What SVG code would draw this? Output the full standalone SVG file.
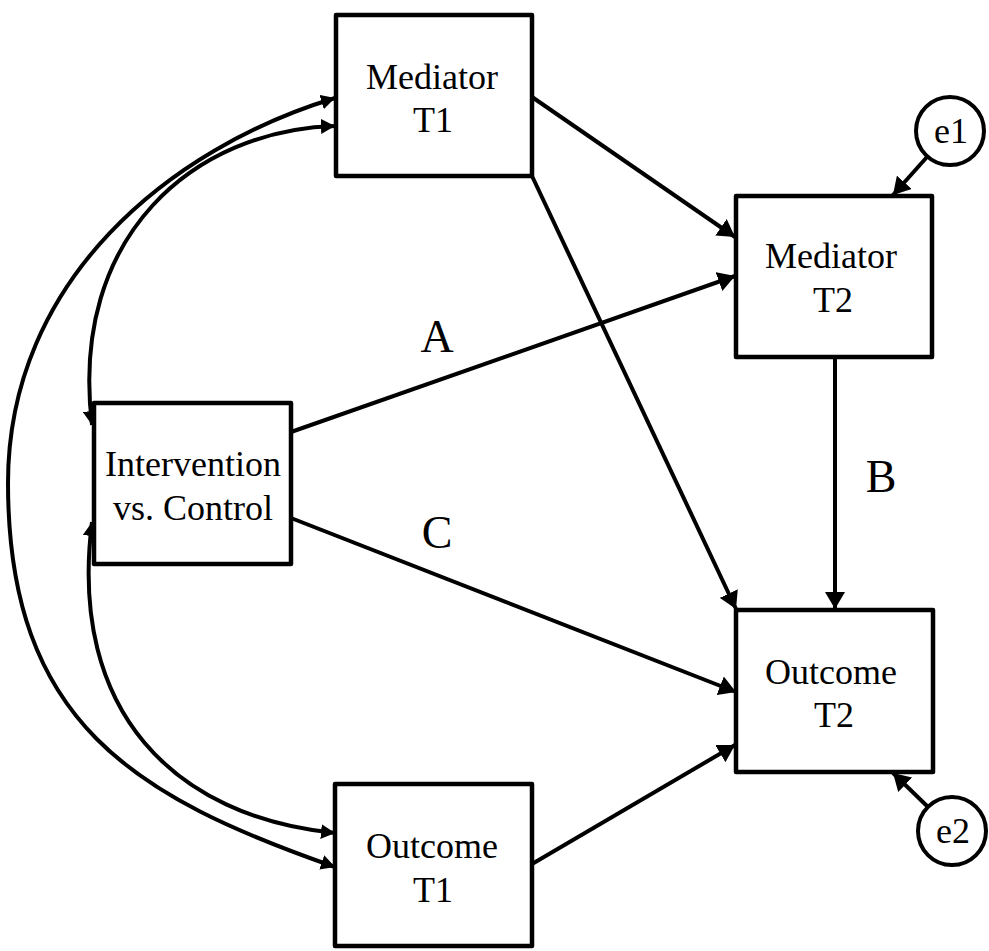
<svg xmlns="http://www.w3.org/2000/svg" width="989" height="951" viewBox="0 0 989 951">
  <defs>
    <style>
      .box { fill: #ffffff; stroke: #000000; stroke-width: 4.5; stroke-linejoin: round; }
      .err { fill: #ffffff; stroke: #000000; stroke-width: 4; }
      .lbl { font-family: 'Liberation Serif', 'DejaVu Serif', serif; font-size: 36px; fill: #000000; text-anchor: middle; }
      .path-lbl { font-family: 'Liberation Serif', 'DejaVu Serif', serif; font-size: 46px; fill: #000000; text-anchor: middle; }
      .edge { fill: none; stroke: #000000; stroke-width: 4; marker-end: url(#head); }
      .cov { fill: none; stroke: #000000; stroke-width: 4; marker-start: url(#headSm); marker-end: url(#headSm); }
    </style>
    <!-- arrowhead for directed paths -->
    <marker id="head" markerUnits="userSpaceOnUse" markerWidth="20" markerHeight="20" refX="17" refY="10" orient="auto">
      <path d="M0,0 L17,10 L0,20 z" fill="#000000"/>
    </marker>
    <!-- smaller arrowhead for the curved covariance paths -->
    <marker id="headSm" markerUnits="userSpaceOnUse" markerWidth="15" markerHeight="15" refX="14" refY="7.5" orient="auto-start-reverse">
      <path d="M0,0 L14,7.5 L0,15 z" fill="#000000"/>
    </marker>
  </defs>

  <rect width="989" height="951" fill="#ffffff"/>

  <!-- connectors -->
  <g id="connectors">
    <!-- covariances -->
    <path class="cov" d="M335,98 C170,148 8,280 8,483 C8,723 135,797 335,867"/>
    <path class="cov" d="M335,126 C195,130 69,235 92,425"/>
    <path class="cov" d="M92,522 C68,712 175,817 335,833"/>
    <!-- regressions -->
    <line class="edge" x1="532" y1="97" x2="735" y2="237"/>
    <line class="edge" x1="532" y1="176" x2="736" y2="609"/>
    <line class="edge" x1="291" y1="432" x2="735" y2="276"/>
    <line class="edge" x1="291" y1="518" x2="736" y2="692"/>
    <line class="edge" x1="532" y1="864" x2="735" y2="745"/>
    <line class="edge" x1="835" y1="357" x2="835" y2="609"/>
    <!-- residual terms -->
    <line class="edge" x1="927" y1="157" x2="893" y2="195"/>
    <line class="edge" x1="927" y1="806" x2="893" y2="773"/>
    <!-- path labels -->
    <text class="path-lbl" x="437" y="352">A</text>
    <text class="path-lbl" x="881" y="492">B</text>
    <text class="path-lbl" x="437" y="548">C</text>
  </g>

  <g id="mediator-t1">
    <rect class="box" x="336" y="15" width="196" height="161"/>
    <text class="lbl" x="432" y="89">Mediator</text>
    <text class="lbl" x="433" y="132">T1</text>
  </g>

  <g id="mediator-t2">
    <rect class="box" x="736" y="196" width="196" height="161"/>
    <text class="lbl" x="831" y="268">Mediator</text>
    <text class="lbl" x="833" y="312">T2</text>
  </g>

  <g id="intervention">
    <rect class="box" x="94" y="403" width="197" height="161"/>
    <text class="lbl" x="193" y="476">Intervention</text>
    <text class="lbl" x="193" y="520">vs. Control</text>
  </g>

  <g id="outcome-t1">
    <rect class="box" x="335" y="784" width="197" height="162"/>
    <text class="lbl" x="432" y="858">Outcome</text>
    <text class="lbl" x="433" y="902">T1</text>
  </g>

  <g id="outcome-t2">
    <rect class="box" x="736" y="610" width="197" height="162"/>
    <text class="lbl" x="831" y="684">Outcome</text>
    <text class="lbl" x="834" y="727">T2</text>
  </g>

  <g id="e1">
    <circle class="err" cx="950" cy="131" r="34"/>
    <text class="lbl" x="951" y="143">e1</text>
  </g>

  <g id="e2">
    <circle class="err" cx="952" cy="831" r="34"/>
    <text class="lbl" x="953" y="843">e2</text>
  </g>
</svg>
